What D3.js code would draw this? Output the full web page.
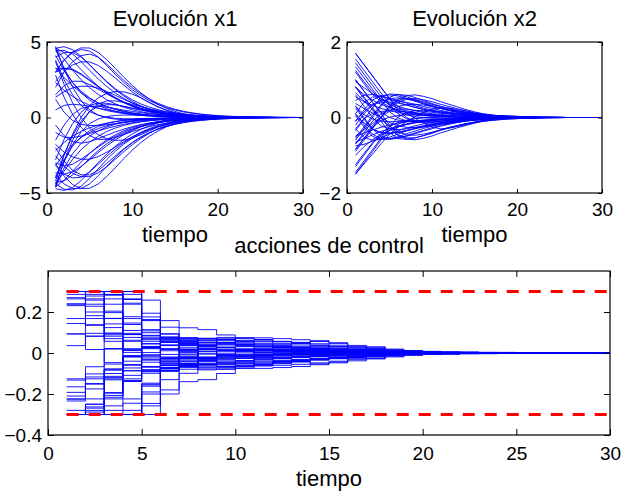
<!DOCTYPE html>
<html><head><meta charset="utf-8">
<script src="https://cdn.jsdelivr.net/npm/d3@7"></script>
<style>
html,body{margin:0;padding:0;background:#fff;}
svg{display:block;font-family:"Liberation Sans",Arial,Helvetica,sans-serif;}
</style></head><body>
<svg id="chart" width="623" height="492"></svg>
<script>
// ---------------- data ----------------
const time = [1,2,3,4,5,6,7,8,9,10,11,12,13,14,15,16,17,18,19,20,21,22,23,24,25,26,27,28,29,30];

const x1Series = [
[-4.6,-2.9,-1.5,-0.4,0.4,0.9,1.1,1.1,1.0,0.86,0.72,0.58,0.46,0.36,0.28,0.22,0.17,0.13,0.09,0.07,0.05,0.04,0.03,0.02,0.01,0.01,0,0,0,0],
[-4.4,-2.95,-1.8,-0.95,-0.4,-0.1,0.06,0.14,0.16,0.16,0.14,0.12,0.1,0.08,0.07,0.05,0.04,0.03,0.02,0.02,0.01,0.01,0,0,0,0,0,0,0,0],
[-4.0,-2.8,-1.9,-1.29,-0.87,-0.59,-0.4,-0.27,-0.18,-0.12,-0.08,-0.06,-0.04,-0.03,-0.02,-0.01,-0.01,0,0,0,0,0,0,0,0,0,0,0,0,0],
[-4.5,-3.55,-2.77,-2.13,-1.63,-1.24,-0.93,-0.7,-0.52,-0.39,-0.29,-0.21,-0.16,-0.12,-0.08,-0.06,-0.04,-0.03,-0.02,-0.02,-0.01,-0.01,0,0,0,0,0,0,0,0],
[-3.2,-2.4,-1.79,-1.33,-0.99,-0.73,-0.54,-0.4,-0.29,-0.21,-0.16,-0.11,-0.08,-0.06,-0.04,-0.03,-0.02,-0.01,-0.01,0,0,0,0,0,0,0,0,0,0,0],
[-4.6,-4.15,-3.56,-2.95,-2.38,-1.89,-1.48,-1.15,-0.88,-0.67,-0.51,-0.38,-0.29,-0.21,-0.16,-0.12,-0.09,-0.06,-0.05,-0.03,-0.03,-0.02,-0.01,-0.01,-0.01,0,0,0,0,0],
[-2.2,-1.65,-1.23,-0.92,-0.68,-0.5,-0.37,-0.27,-0.2,-0.15,-0.11,-0.08,-0.06,-0.04,-0.03,-0.02,-0.01,-0.01,0,0,0,0,0,0,0,0,0,0,0,0],
[-4.3,-4.2,-3.8,-3.26,-2.71,-2.19,-1.74,-1.36,-1.05,-0.81,-0.62,-0.47,-0.35,-0.26,-0.2,-0.15,-0.11,-0.08,-0.06,-0.04,-0.03,-0.02,-0.02,-0.01,-0.01,0,0,0,0,0],
[-3.0,-3.2,-3.1,-2.77,-2.36,-1.95,-1.57,-1.25,-0.97,-0.75,-0.58,-0.44,-0.33,-0.25,-0.19,-0.14,-0.1,-0.07,-0.05,-0.04,-0.03,-0.02,-0.01,-0.01,0,0,0,0,0,0],
[-4.4,-4.75,-4.8,-4.55,-4.02,-3.4,-2.79,-2.24,-1.76,-1.38,-1.06,-0.81,-0.62,-0.46,-0.35,-0.26,-0.2,-0.15,-0.11,-0.08,-0.06,-0.04,-0.03,-0.02,-0.02,-0.01,-0.01,0,0,0],
[-3.8,-4.4,-4.7,-4.7,-4.4,-3.86,-3.24,-2.65,-2.12,-1.67,-1.3,-1.0,-0.77,-0.58,-0.44,-0.33,-0.25,-0.19,-0.14,-0.1,-0.08,-0.06,-0.04,-0.03,-0.02,-0.02,-0.01,-0.01,0,0],
[-1.5,-0.5,0.2,0.6,0.74,0.75,0.68,0.59,0.49,0.4,0.32,0.25,0.19,0.15,0.11,0.08,0.06,0.05,0.03,0.03,0.02,0.01,0.01,0.01,0,0,0,0,0,0],
[2.0,3.0,3.7,4.1,4.2,4.0,3.54,3.0,2.46,1.98,1.56,1.22,0.94,0.72,0.54,0.41,0.31,0.23,0.17,0.13,0.09,0.07,0.05,0.04,0.03,0.02,0.01,0.01,0.01,0],
[3.0,3.8,4.3,4.5,4.4,4.0,3.44,2.86,2.32,1.84,1.45,1.12,0.86,0.65,0.5,0.37,0.28,0.21,0.15,0.11,0.08,0.06,0.04,0.03,0.02,0.02,0.01,0.01,0,0],
[4.0,4.3,4.3,4.0,3.49,2.93,2.39,1.91,1.5,1.17,0.9,0.69,0.52,0.39,0.3,0.22,0.17,0.12,0.09,0.07,0.05,0.04,0.03,0.02,0.01,0.01,0.01,0,0,0],
[4.7,3.2,2.0,1.1,0.5,0.16,-0.02,-0.11,-0.14,-0.14,-0.13,-0.11,-0.09,-0.08,-0.06,-0.05,-0.04,-0.03,-0.02,-0.02,-0.01,-0.01,0,0,0,0,0,0,0,0],
[4.5,3.25,2.3,1.63,1.15,0.81,0.58,0.41,0.29,0.2,0.14,0.1,0.07,0.05,0.04,0.03,0.02,0.01,0.01,0,0,0,0,0,0,0,0,0,0,0],
[4.1,3.1,2.33,1.74,1.3,0.96,0.71,0.53,0.39,0.28,0.21,0.15,0.11,0.08,0.06,0.04,0.03,0.02,0.02,0.01,0.01,0,0,0,0,0,0,0,0,0],
[4.6,3.85,3.14,2.5,1.97,1.53,1.18,0.9,0.68,0.51,0.38,0.29,0.21,0.16,0.12,0.09,0.06,0.05,0.03,0.03,0.02,0.01,0.01,0.01,0,0,0,0,0,0],
[3.3,2.65,2.09,1.63,1.26,0.96,0.73,0.55,0.42,0.31,0.23,0.17,0.13,0.1,0.07,0.05,0.04,0.03,0.02,0.01,0.01,0,0,0,0,0,0,0,0,0],
[4.6,4.3,3.77,3.17,2.59,2.07,1.63,1.27,0.98,0.74,0.56,0.43,0.32,0.24,0.18,0.13,0.09,0.07,0.05,0.04,0.03,0.02,0.01,0.01,0.01,0,0,0,0,0],
[2.3,1.8,1.39,1.07,0.81,0.62,0.46,0.35,0.26,0.19,0.14,0.11,0.08,0.06,0.04,0.03,0.02,0.02,0.01,0.01,0,0,0,0,0,0,0,0,0,0],
[4.4,4.45,4.2,3.7,3.12,2.56,2.05,1.62,1.26,0.97,0.74,0.56,0.42,0.32,0.24,0.18,0.13,0.1,0.07,0.05,0.04,0.03,0.02,0.02,0.01,0.01,0,0,0,0],
[3.0,3.25,3.2,2.89,2.48,2.05,1.66,1.32,1.03,0.8,0.61,0.46,0.35,0.26,0.2,0.15,0.11,0.08,0.06,0.04,0.03,0.02,0.02,0.01,0.01,0,0,0,0,0],
[1.2,0.35,-0.2,-0.45,-0.53,-0.53,-0.48,-0.41,-0.34,-0.27,-0.22,-0.17,-0.13,-0.1,-0.08,-0.06,-0.04,-0.03,-0.02,-0.02,-0.01,-0.01,0,0,0,0,0,0,0,0],
[-2.0,-2.9,-3.5,-3.8,-3.8,-3.5,-3.04,-2.54,-2.07,-1.65,-1.3,-1.01,-0.77,-0.59,-0.45,-0.34,-0.25,-0.19,-0.14,-0.1,-0.08,-0.06,-0.04,-0.03,-0.02,-0.02,-0.01,-0.01,0,0],
[-3.2,-3.75,-4.0,-3.95,-3.6,-3.1,-2.58,-2.09,-1.67,-1.31,-1.01,-0.78,-0.59,-0.45,-0.34,-0.25,-0.19,-0.14,-0.1,-0.08,-0.06,-0.04,-0.03,-0.02,-0.02,-0.01,-0.01,0,0,0],
[0.5,0.8,0.88,0.83,0.74,0.62,0.51,0.41,0.33,0.26,0.2,0.15,0.12,0.09,0.07,0.05,0.04,0.03,0.02,0.02,0.01,0.01,0,0,0,0,0,0,0,0],
[-1.0,-1.3,-1.33,-1.23,-1.06,-0.89,-0.72,-0.58,-0.45,-0.35,-0.27,-0.21,-0.16,-0.12,-0.09,-0.07,-0.05,-0.04,-0.03,-0.02,-0.02,-0.01,-0.01,0,0,0,0,0,0,0],
[-4.6,-3.35,-2.4,-1.72,-1.23,-0.88,-0.63,-0.45,-0.32,-0.23,-0.16,-0.12,-0.08,-0.06,-0.04,-0.03,-0.02,-0.02,-0.01,-0.01,0,0,0,0,0,0,0,0,0,0],
[3.8,2.5,1.5,0.8,0.39,0.15,0.02,-0.05,-0.08,-0.08,-0.08,-0.07,-0.06,-0.05,-0.04,-0.03,-0.02,-0.02,-0.01,-0.01,0,0,0,0,0,0,0,0,0,0],
[-4.0,-2.45,-1.2,-0.25,0.4,0.75,0.85,0.83,0.74,0.63,0.52,0.42,0.33,0.26,0.2,0.16,0.12,0.09,0.07,0.05,0.04,0.03,0.02,0.02,0.01,0.01,0,0,0,0],
[1.5,2.1,2.4,2.4,2.18,1.88,1.56,1.27,1.01,0.79,0.61,0.47,0.36,0.27,0.21,0.15,0.12,0.09,0.06,0.05,0.04,0.03,0.02,0.01,0.01,0.01,0,0,0,0],
[-0.5,-1.2,-1.6,-1.7,-1.6,-1.4,-1.18,-0.96,-0.77,-0.61,-0.47,-0.36,-0.28,-0.21,-0.16,-0.12,-0.09,-0.07,-0.05,-0.04,-0.03,-0.02,-0.01,-0.01,-0.01,0,0,0,0,0],
[-2.8,-1.45,-0.4,0.35,0.8,0.95,0.94,0.85,0.73,0.6,0.49,0.39,0.31,0.24,0.18,0.14,0.11,0.08,0.06,0.04,0.03,0.02,0.02,0.01,0.01,0,0,0,0,0],
[2.8,1.35,0.2,-0.65,-1.2,-1.45,-1.44,-1.31,-1.13,-0.93,-0.76,-0.6,-0.47,-0.37,-0.28,-0.21,-0.16,-0.12,-0.09,-0.07,-0.05,-0.04,-0.03,-0.02,-0.02,-0.01,-0.01,0,0,0],
[2.99,3.81,4.35,4.61,4.6,4.31,3.83,3.26,2.67,2.12,1.63,1.22,0.88,0.61,0.4,0.25,0.15,0.08,0.04,0.02,0.01,0,0,0,0,0,0,0,0,0],
[-3.05,-3.89,-4.44,-4.7,-4.69,-4.4,-3.91,-3.33,-2.72,-2.16,-1.66,-1.24,-0.9,-0.62,-0.41,-0.26,-0.15,-0.08,-0.04,-0.02,-0.01,0,0,0,0,0,0,0,0,0],
[2.39,3.05,3.48,3.69,3.68,3.45,3.06,2.61,2.14,1.7,1.3,0.98,0.7,0.49,0.32,0.2,0.12,0.06,0.03,0.02,0.01,0,0,0,0,0,0,0,0,0],
[-2.54,-3.24,-3.7,-3.92,-3.91,-3.66,-3.26,-2.77,-2.27,-1.8,-1.39,-1.04,-0.75,-0.52,-0.34,-0.21,-0.13,-0.07,-0.03,-0.02,-0.01,0,0,0,0,0,0,0,0,0],
[-1.79,-2.29,-2.61,-2.77,-2.76,-2.59,-2.3,-1.96,-1.6,-1.27,-0.98,-0.73,-0.53,-0.37,-0.24,-0.15,-0.09,-0.05,-0.02,-0.01,-0.01,0,0,0,0,0,0,0,0,0],
[1.35,1.71,1.96,2.07,2.07,1.94,1.72,1.47,1.2,0.95,0.73,0.55,0.4,0.27,0.18,0.11,0.07,0.04,0.02,0.01,0,0,0,0,0,0,0,0,0,0],
[4.58,4.69,4.49,4.05,3.49,2.9,2.35,1.85,1.42,1.06,0.76,0.53,0.35,0.22,0.13,0.07,0.03,0.01,0,0,0,0,0,0,0,0,0,0,0,0],
[-4.72,-4.83,-4.64,-4.17,-3.59,-2.99,-2.42,-1.91,-1.46,-1.09,-0.79,-0.55,-0.36,-0.23,-0.13,-0.07,-0.03,-0.01,0,0,0,0,0,0,0,0,0,0,0,0],
[3.21,3.28,3.15,2.84,2.44,2.03,1.65,1.3,0.99,0.74,0.53,0.37,0.25,0.15,0.09,0.05,0.02,0.01,0,0,0,0,0,0,0,0,0,0,0,0],
[-3.66,-3.75,-3.6,-3.24,-2.79,-2.32,-1.88,-1.48,-1.14,-0.85,-0.61,-0.42,-0.28,-0.18,-0.1,-0.05,-0.02,-0.01,0,0,0,0,0,0,0,0,0,0,0,0],
[-4.2,-2.5,-1.1,0,0.8,1.3,1.6,1.72,1.7,1.55,1.3,1.0,0.72,0.48,0.29,0.16,0.08,0.03,0.01,0,0,0,0,0,0,0,0,0,0,0],
[3.7,2.2,0.97,0,-0.7,-1.14,-1.41,-1.51,-1.5,-1.36,-1.14,-0.88,-0.63,-0.42,-0.26,-0.14,-0.07,-0.03,-0.01,0,0,0,0,0,0,0,0,0,0,0]
];

const x2Series = [
[1.7,1.4,1.1,0.8,0.5,0.2,0,-0.1,-0.14,-0.15,-0.14,-0.12,-0.1,-0.08,-0.07,-0.05,-0.04,-0.03,-0.02,-0.02,-0.01,-0.01,-0.01,0,0,0,0,0,0,0],
[1.45,1.15,0.85,0.55,0.31,0.16,0.07,0.02,0,-0.02,-0.02,-0.02,-0.02,-0.02,-0.01,-0.01,-0.01,-0.01,0,0,0,0,0,0,0,0,0,0,0,0],
[1.2,0.9,0.61,0.42,0.28,0.19,0.13,0.09,0.06,0.04,0.03,0.02,0.01,0.01,0.01,0,0,0,0,0,0,0,0,0,0,0,0,0,0,0],
[0.95,0.79,0.63,0.5,0.39,0.3,0.23,0.18,0.13,0.1,0.08,0.06,0.04,0.03,0.02,0.02,0.01,0.01,0.01,0,0,0,0,0,0,0,0,0,0,0],
[0.8,0.61,0.46,0.35,0.26,0.19,0.14,0.11,0.08,0.06,0.04,0.03,0.02,0.02,0.01,0.01,0,0,0,0,0,0,0,0,0,0,0,0,0,0],
[0.45,0.59,0.61,0.56,0.49,0.41,0.33,0.27,0.21,0.16,0.13,0.1,0.07,0.06,0.04,0.03,0.02,0.02,0.01,0.01,0.01,0,0,0,0,0,0,0,0,0],
[0.55,0.42,0.32,0.24,0.18,0.13,0.1,0.07,0.05,0.04,0.03,0.02,0.02,0.01,0.01,0,0,0,0,0,0,0,0,0,0,0,0,0,0,0],
[0.1,0.4,0.54,0.56,0.52,0.45,0.38,0.31,0.25,0.19,0.15,0.12,0.09,0.07,0.05,0.04,0.03,0.02,0.02,0.01,0.01,0.01,0,0,0,0,0,0,0,0],
[-0.2,0.1,0.33,0.41,0.41,0.38,0.33,0.27,0.22,0.18,0.14,0.11,0.08,0.06,0.05,0.04,0.03,0.02,0.01,0.01,0.01,0,0,0,0,0,0,0,0,0],
[-0.35,-0.05,0.25,0.53,0.62,0.61,0.55,0.47,0.39,0.32,0.25,0.2,0.15,0.12,0.09,0.07,0.05,0.04,0.03,0.02,0.02,0.01,0.01,0.01,0,0,0,0,0,0],
[-0.6,-0.3,0,0.3,0.54,0.61,0.59,0.53,0.45,0.37,0.3,0.24,0.18,0.14,0.11,0.08,0.06,0.05,0.04,0.03,0.02,0.02,0.01,0.01,0.01,0,0,0,0,0],
[1.0,0.7,0.4,0.14,0,-0.07,-0.09,-0.1,-0.09,-0.08,-0.07,-0.06,-0.05,-0.04,-0.03,-0.02,-0.02,-0.01,-0.01,-0.01,0,0,0,0,0,0,0,0,0,0],
[1.0,0.7,0.4,0.1,-0.2,-0.46,-0.54,-0.54,-0.48,-0.42,-0.34,-0.28,-0.22,-0.17,-0.14,-0.1,-0.08,-0.06,-0.04,-0.03,-0.02,-0.02,-0.01,-0.01,-0.01,0,0,0,0,0],
[0.8,0.5,0.2,-0.1,-0.4,-0.56,-0.58,-0.54,-0.48,-0.4,-0.33,-0.26,-0.21,-0.16,-0.12,-0.09,-0.07,-0.05,-0.04,-0.03,-0.02,-0.02,-0.01,-0.01,0,0,0,0,0,0],
[0.3,0,-0.3,-0.51,-0.56,-0.54,-0.48,-0.41,-0.34,-0.27,-0.21,-0.17,-0.13,-0.1,-0.07,-0.06,-0.04,-0.03,-0.02,-0.02,-0.01,-0.01,-0.01,0,0,0,0,0,0,0],
[-1.5,-1.2,-0.9,-0.6,-0.34,-0.18,-0.09,-0.03,0,0.01,0.02,0.02,0.02,0.02,0.01,0.01,0.01,0.01,0,0,0,0,0,0,0,0,0,0,0,0],
[-1.25,-0.95,-0.67,-0.48,-0.34,-0.24,-0.17,-0.12,-0.08,-0.06,-0.04,-0.03,-0.02,-0.01,-0.01,-0.01,0,0,0,0,0,0,0,0,0,0,0,0,0,0],
[-1.0,-0.77,-0.59,-0.45,-0.34,-0.25,-0.19,-0.14,-0.1,-0.08,-0.06,-0.04,-0.03,-0.02,-0.02,-0.01,-0.01,0,0,0,0,0,0,0,0,0,0,0,0,0],
[-0.75,-0.71,-0.63,-0.54,-0.44,-0.35,-0.28,-0.22,-0.17,-0.13,-0.1,-0.07,-0.06,-0.04,-0.03,-0.02,-0.02,-0.01,-0.01,-0.01,0,0,0,0,0,0,0,0,0,0],
[-0.65,-0.56,-0.46,-0.37,-0.3,-0.23,-0.18,-0.14,-0.11,-0.08,-0.06,-0.04,-0.03,-0.02,-0.02,-0.01,-0.01,0,0,0,0,0,0,0,0,0,0,0,0,0],
[-0.3,-0.53,-0.6,-0.58,-0.52,-0.44,-0.36,-0.29,-0.23,-0.18,-0.14,-0.11,-0.08,-0.06,-0.05,-0.04,-0.03,-0.02,-0.01,-0.01,-0.01,0,0,0,0,0,0,0,0,0],
[-0.5,-0.41,-0.33,-0.26,-0.2,-0.15,-0.12,-0.09,-0.07,-0.05,-0.04,-0.03,-0.02,-0.02,-0.01,-0.01,0,0,0,0,0,0,0,0,0,0,0,0,0,0],
[0.05,-0.25,-0.5,-0.58,-0.56,-0.51,-0.43,-0.36,-0.29,-0.23,-0.18,-0.14,-0.11,-0.08,-0.06,-0.05,-0.03,-0.03,-0.02,-0.01,-0.01,-0.01,0,0,0,0,0,0,0,0],
[0.25,-0.05,-0.31,-0.41,-0.43,-0.39,-0.34,-0.29,-0.23,-0.19,-0.15,-0.11,-0.09,-0.07,-0.05,-0.04,-0.03,-0.02,-0.02,-0.01,-0.01,0,0,0,0,0,0,0,0,0],
[-0.85,-0.55,-0.25,-0.08,0.01,0.05,0.07,0.07,0.06,0.06,0.05,0.04,0.03,0.02,0.02,0.01,0.01,0.01,0,0,0,0,0,0,0,0,0,0,0,0],
[-0.9,-0.6,-0.3,0,0.3,0.46,0.5,0.47,0.42,0.35,0.29,0.23,0.18,0.14,0.11,0.08,0.06,0.05,0.04,0.03,0.02,0.02,0.01,0.01,0.01,0,0,0,0,0],
[-0.55,-0.25,0.05,0.35,0.5,0.52,0.49,0.43,0.36,0.29,0.24,0.19,0.14,0.11,0.08,0.06,0.05,0.04,0.03,0.02,0.02,0.01,0.01,0.01,0,0,0,0,0,0],
[0.3,0.08,-0.04,-0.1,-0.11,-0.11,-0.1,-0.09,-0.07,-0.06,-0.05,-0.04,-0.03,-0.02,-0.02,-0.01,-0.01,-0.01,0,0,0,0,0,0,0,0,0,0,0,0],
[-0.3,-0.03,0.11,0.16,0.18,0.17,0.15,0.12,0.1,0.08,0.06,0.05,0.04,0.03,0.02,0.02,0.01,0.01,0.01,0,0,0,0,0,0,0,0,0,0,0],
[1.25,0.95,0.68,0.49,0.35,0.25,0.18,0.13,0.09,0.07,0.05,0.03,0.02,0.02,0.01,0.01,0,0,0,0,0,0,0,0,0,0,0,0,0,0],
[-1.3,-1.0,-0.7,-0.42,-0.24,-0.13,-0.07,-0.03,-0.01,0,0.01,0.01,0.01,0.01,0.01,0.01,0,0,0,0,0,0,0,0,0,0,0,0,0,0],
[1.55,1.25,0.95,0.65,0.35,0.1,-0.03,-0.09,-0.11,-0.11,-0.1,-0.09,-0.07,-0.06,-0.05,-0.04,-0.03,-0.02,-0.02,-0.01,-0.01,-0.01,0,0,0,0,0,0,0,0],
[0.6,0.3,0,-0.22,-0.3,-0.32,-0.3,-0.26,-0.22,-0.18,-0.14,-0.11,-0.09,-0.07,-0.05,-0.04,-0.03,-0.02,-0.02,-0.01,-0.01,-0.01,0,0,0,0,0,0,0,0],
[-0.7,-0.4,-0.1,0.1,0.2,0.22,0.22,0.19,0.16,0.14,0.11,0.09,0.07,0.05,0.04,0.03,0.02,0.02,0.01,0.01,0.01,0,0,0,0,0,0,0,0,0],
[1.35,1.05,0.75,0.45,0.15,-0.01,-0.09,-0.12,-0.12,-0.12,-0.1,-0.08,-0.07,-0.05,-0.04,-0.03,-0.03,-0.02,-0.01,-0.01,-0.01,0,0,0,0,0,0,0,0,0],
[-1.45,-1.15,-0.85,-0.55,-0.25,0.01,0.13,0.18,0.19,0.18,0.16,0.13,0.11,0.09,0.07,0.05,0.04,0.03,0.02,0.02,0.01,0.01,0.01,0,0,0,0,0,0,0],
[0.82,0.54,0.26,-0.01,-0.29,-0.48,-0.57,-0.59,-0.55,-0.49,-0.41,-0.34,-0.27,-0.21,-0.15,-0.1,-0.07,-0.04,-0.02,-0.01,-0.01,0,0,0,0,0,0,0,0,0],
[-0.84,-0.55,-0.27,0.01,0.3,0.49,0.58,0.6,0.56,0.5,0.42,0.35,0.28,0.21,0.15,0.1,0.07,0.04,0.02,0.01,0.01,0,0,0,0,0,0,0,0,0],
[0.66,0.43,0.21,-0.01,-0.23,-0.38,-0.46,-0.47,-0.44,-0.39,-0.33,-0.27,-0.22,-0.17,-0.12,-0.08,-0.06,-0.03,-0.02,-0.01,-0.01,0,0,0,0,0,0,0,0,0],
[-0.7,-0.46,-0.22,0.01,0.25,0.41,0.48,0.5,0.47,0.42,0.35,0.29,0.23,0.18,0.13,0.09,0.06,0.03,0.02,0.01,0.01,0,0,0,0,0,0,0,0,0],
[-0.49,-0.32,-0.16,0.01,0.17,0.29,0.34,0.35,0.33,0.29,0.25,0.2,0.16,0.13,0.09,0.06,0.04,0.02,0.01,0.01,0,0,0,0,0,0,0,0,0,0],
[0.37,0.24,0.12,0,-0.13,-0.22,-0.26,-0.27,-0.25,-0.22,-0.18,-0.15,-0.12,-0.09,-0.07,-0.05,-0.03,-0.02,-0.01,-0.01,0,0,0,0,0,0,0,0,0,0],
[0.11,-0.19,-0.44,-0.56,-0.58,-0.55,-0.5,-0.43,-0.36,-0.3,-0.23,-0.18,-0.13,-0.09,-0.06,-0.04,-0.02,-0.01,0,0,0,0,0,0,0,0,0,0,0,0],
[-0.11,0.2,0.46,0.58,0.6,0.57,0.51,0.45,0.37,0.3,0.24,0.18,0.13,0.09,0.06,0.04,0.02,0.01,0,0,0,0,0,0,0,0,0,0,0,0],
[0.07,-0.14,-0.31,-0.39,-0.41,-0.39,-0.35,-0.3,-0.25,-0.21,-0.16,-0.12,-0.09,-0.06,-0.04,-0.03,-0.01,-0.01,0,0,0,0,0,0,0,0,0,0,0,0],
[-0.09,0.15,0.35,0.45,0.47,0.44,0.4,0.35,0.29,0.24,0.19,0.14,0.1,0.07,0.05,0.03,0.02,0.01,0,0,0,0,0,0,0,0,0,0,0,0],
[1.7,1.4,1.1,0.8,0.5,0.3,0.12,-0.02,-0.15,-0.25,-0.3,-0.28,-0.24,-0.19,-0.13,-0.08,-0.05,-0.02,-0.01,0,0,0,0,0,0,0,0,0,0,0],
[-1.5,-1.23,-0.97,-0.7,-0.44,-0.26,-0.11,0.02,0.13,0.22,0.26,0.25,0.21,0.17,0.11,0.07,0.04,0.02,0.01,0,0,0,0,0,0,0,0,0,0,0]
];

const uSeries = [
[-0.3,-0.3,-0.3,-0.3,-0.3,-0.2,-0.099,-0.039,-0.007,0.01,0.018,0.019,0.018,0.016,0.014,0.011,0.009,0.007,0.006,0.004,0.003,0.002,0.002,0.001,0.001,0,0,0,0,0],
[-0.3,-0.3,-0.3,-0.245,-0.147,-0.086,-0.049,-0.026,-0.012,-0.005,0,0.001,0.003,0.003,0.003,0.002,0.002,0.001,0.001,0,0,0,0,0,0,0,0,0,0,0],
[-0.3,-0.288,-0.196,-0.134,-0.091,-0.062,-0.041,-0.029,-0.019,-0.013,-0.009,-0.006,-0.004,-0.003,-0.002,-0.001,0,0,0,0,0,0,0,0,0,0,0,0,0,0],
[-0.165,-0.152,-0.131,-0.109,-0.089,-0.071,-0.056,-0.043,-0.033,-0.026,-0.019,-0.014,-0.011,-0.008,-0.006,-0.004,-0.003,-0.002,-0.002,-0.001,0,0,0,0,0,0,0,0,0,0],
[-0.192,-0.149,-0.114,-0.087,-0.066,-0.049,-0.038,-0.028,-0.02,-0.015,-0.011,-0.008,-0.006,-0.004,-0.003,-0.002,-0.001,0,0,0,0,0,0,0,0,0,0,0,0,0],
[0.144,0.017,-0.047,-0.073,-0.081,-0.076,-0.067,-0.057,-0.047,-0.038,-0.029,-0.023,-0.018,-0.014,-0.01,-0.008,-0.006,-0.004,-0.003,-0.002,-0.002,-0.001,0,0,0,0,0,0,0,0],
[-0.132,-0.102,-0.079,-0.06,-0.045,-0.034,-0.025,-0.019,-0.014,-0.01,-0.007,-0.005,-0.004,-0.003,-0.002,-0.001,0,0,0,0,0,0,0,0,0,0,0,0,0,0],
[0.3,0.138,0.019,-0.04,-0.067,-0.073,-0.07,-0.062,-0.052,-0.043,-0.035,-0.027,-0.021,-0.016,-0.012,-0.009,-0.007,-0.005,-0.004,-0.003,-0.002,-0.001,-0.001,0,0,0,0,0,0,0],
[0.3,0.228,0.082,0.003,-0.035,-0.052,-0.055,-0.051,-0.044,-0.037,-0.031,-0.025,-0.02,-0.015,-0.011,-0.008,-0.006,-0.005,-0.003,-0.002,-0.002,-0.001,0,0,0,0,0,0,0,0],
[0.3,0.3,0.282,0.09,-0.011,-0.061,-0.079,-0.082,-0.074,-0.065,-0.055,-0.044,-0.036,-0.027,-0.022,-0.016,-0.012,-0.009,-0.007,-0.005,-0.004,-0.003,-0.002,-0.001,-0.001,0,0,0,0,0],
[0.3,0.3,0.3,0.243,0.07,-0.021,-0.063,-0.078,-0.08,-0.073,-0.062,-0.052,-0.042,-0.033,-0.026,-0.02,-0.015,-0.011,-0.008,-0.006,-0.005,-0.003,-0.003,-0.002,-0.001,0,0,0,0,0],
[-0.3,-0.3,-0.258,-0.139,-0.069,-0.027,-0.005,0.006,0.011,0.013,0.012,0.011,0.01,0.008,0.007,0.005,0.004,0.003,0.002,0.002,0.001,0.001,0,0,0,0,0,0,0,0],
[-0.3,-0.3,-0.3,-0.3,-0.258,-0.085,0.007,0.052,0.068,0.072,0.065,0.057,0.048,0.039,0.032,0.025,0.019,0.015,0.011,0.008,0.006,0.005,0.003,0.003,0.002,0.001,0.001,0,0,0],
[-0.3,-0.3,-0.3,-0.3,-0.156,-0.026,0.039,0.068,0.076,0.073,0.066,0.055,0.046,0.036,0.029,0.023,0.017,0.013,0.01,0.007,0.005,0.004,0.003,0.002,0.002,0.001,0,0,0,0],
[-0.3,-0.3,-0.207,-0.056,0.024,0.059,0.073,0.072,0.066,0.056,0.047,0.038,0.03,0.024,0.018,0.014,0.01,0.008,0.006,0.004,0.003,0.002,0.002,0.001,0,0,0,0,0,0],
[0.3,0.3,0.3,0.261,0.158,0.094,0.054,0.03,0.015,0.006,0.001,-0.001,-0.002,-0.002,-0.002,-0.002,-0.001,-0.001,0,0,0,0,0,0,0,0,0,0,0,0],
[0.3,0.278,0.197,0.139,0.099,0.07,0.049,0.035,0.025,0.017,0.012,0.009,0.006,0.004,0.003,0.002,0.001,0.001,0,0,0,0,0,0,0,0,0,0,0,0],
[0.231,0.182,0.142,0.11,0.084,0.064,0.048,0.036,0.027,0.02,0.015,0.011,0.008,0.006,0.004,0.003,0.002,0.002,0.001,0.001,0,0,0,0,0,0,0,0,0,0],
[0.036,0.082,0.097,0.096,0.086,0.074,0.061,0.05,0.04,0.031,0.024,0.018,0.014,0.01,0.008,0.006,0.004,0.003,0.002,0.002,0.001,0.001,0,0,0,0,0,0,0,0],
[0.093,0.096,0.089,0.076,0.065,0.052,0.041,0.033,0.026,0.019,0.014,0.011,0.008,0.006,0.004,0.003,0.002,0.002,0.001,0,0,0,0,0,0,0,0,0,0,0],
[-0.234,-0.067,0.022,0.062,0.077,0.078,0.07,0.061,0.051,0.041,0.032,0.026,0.019,0.015,0.011,0.008,0.006,0.004,0.003,0.002,0.002,0.001,0.001,0,0,0,0,0,0,0],
[0.093,0.082,0.07,0.057,0.046,0.036,0.028,0.022,0.016,0.012,0.009,0.007,0.005,0.004,0.003,0.002,0.001,0.001,0,0,0,0,0,0,0,0,0,0,0,0],
[-0.3,-0.25,-0.078,0.014,0.057,0.074,0.075,0.069,0.06,0.05,0.04,0.033,0.026,0.019,0.015,0.011,0.008,0.006,0.005,0.003,0.002,0.002,0.001,0.001,0,0,0,0,0,0],
[-0.3,-0.263,-0.1,-0.013,0.032,0.051,0.056,0.053,0.047,0.04,0.033,0.026,0.02,0.016,0.012,0.009,0.007,0.005,0.004,0.003,0.002,0.001,0.001,0,0,0,0,0,0,0],
[0.3,0.299,0.169,0.09,0.044,0.017,0.002,-0.005,-0.009,-0.009,-0.009,-0.007,-0.006,-0.005,-0.004,-0.003,-0.002,-0.001,-0.001,0,0,0,0,0,0,0,0,0,0,0],
[0.3,0.3,0.3,0.3,0.162,0.038,-0.027,-0.056,-0.064,-0.064,-0.056,-0.049,-0.041,-0.033,-0.026,-0.02,-0.015,-0.011,-0.008,-0.006,-0.005,-0.003,-0.003,-0.002,-0.001,0,0,0,0,0],
[0.3,0.3,0.3,0.146,0.027,-0.034,-0.061,-0.068,-0.066,-0.058,-0.05,-0.041,-0.033,-0.027,-0.02,-0.015,-0.011,-0.008,-0.006,-0.005,-0.003,-0.003,-0.002,-0.001,0,0,0,0,0,0],
[-0.225,-0.117,-0.054,-0.017,0.002,0.011,0.014,0.015,0.013,0.012,0.01,0.008,0.006,0.005,0.004,0.003,0.002,0.002,0.001,0,0,0,0,0,0,0,0,0,0,0],
[0.27,0.135,0.057,0.013,-0.009,-0.02,-0.023,-0.022,-0.02,-0.017,-0.014,-0.011,-0.008,-0.006,-0.005,-0.004,-0.003,-0.002,-0.001,-0.001,0,0,0,0,0,0,0,0,0,0],
[-0.3,-0.269,-0.193,-0.138,-0.099,-0.072,-0.051,-0.037,-0.026,-0.019,-0.013,-0.01,-0.007,-0.005,-0.003,-0.002,-0.002,-0.001,0,0,0,0,0,0,0,0,0,0,0,0],
[0.3,0.3,0.285,0.177,0.108,0.065,0.038,0.021,0.011,0.005,0.002,0,-0.001,-0.001,-0.001,-0.001,0,0,0,0,0,0,0,0,0,0,0,0,0,0],
[-0.3,-0.3,-0.3,-0.3,-0.246,-0.13,-0.061,-0.022,-0.001,0.009,0.014,0.014,0.013,0.011,0.009,0.007,0.006,0.004,0.003,0.002,0.002,0.001,0.001,0,0,0,0,0,0,0],
[-0.3,-0.3,-0.216,-0.086,-0.016,0.022,0.037,0.041,0.04,0.036,0.03,0.025,0.02,0.015,0.012,0.009,0.007,0.005,0.004,0.003,0.002,0.001,0.001,0,0,0,0,0,0,0],
[0.3,0.3,0.204,0.091,0.027,-0.007,-0.023,-0.028,-0.029,-0.026,-0.023,-0.019,-0.015,-0.012,-0.009,-0.007,-0.005,-0.004,-0.003,-0.002,-0.002,-0.001,0,0,0,0,0,0,0,0],
[-0.3,-0.3,-0.3,-0.3,-0.162,-0.078,-0.03,-0.004,0.009,0.015,0.016,0.015,0.013,0.011,0.009,0.007,0.005,0.004,0.003,0.002,0.002,0.001,0,0,0,0,0,0,0,0],
[0.3,0.3,0.3,0.3,0.258,0.126,0.049,0.008,-0.013,-0.023,-0.025,-0.024,-0.021,-0.017,-0.014,-0.011,-0.008,-0.006,-0.005,-0.004,-0.003,-0.002,-0.001,-0.001,0,0,0,0,0,0],
[-0.28,-0.28,-0.28,-0.28,-0.19,-0.09,-0.02,0.037,0.065,0.074,0.074,0.07,0.065,0.056,0.047,0.037,0.028,0.019,0.011,0.006,0.003,0,0,0,0,0,0,0,0,0],
[0.286,0.286,0.286,0.286,0.194,0.092,0.02,-0.038,-0.066,-0.075,-0.075,-0.071,-0.066,-0.057,-0.048,-0.038,-0.029,-0.019,-0.011,-0.006,-0.003,0,0,0,0,0,0,0,0,0],
[-0.224,-0.224,-0.224,-0.224,-0.152,-0.072,-0.016,0.03,0.052,0.059,0.059,0.056,0.052,0.045,0.038,0.03,0.022,0.015,0.009,0.005,0.002,0,0,0,0,0,0,0,0,0],
[0.238,0.238,0.238,0.238,0.162,0.077,0.017,-0.031,-0.055,-0.063,-0.063,-0.06,-0.055,-0.048,-0.04,-0.031,-0.024,-0.016,-0.009,-0.005,-0.003,0,0,0,0,0,0,0,0,0],
[0.168,0.168,0.168,0.168,0.114,0.054,0.012,-0.022,-0.039,-0.044,-0.044,-0.042,-0.039,-0.034,-0.028,-0.022,-0.017,-0.011,-0.007,-0.004,-0.002,0,0,0,0,0,0,0,0,0],
[-0.126,-0.126,-0.126,-0.126,-0.086,-0.041,-0.009,0.017,0.029,0.033,0.033,0.032,0.029,0.025,0.021,0.017,0.013,0.009,0.005,0.003,0.001,0,0,0,0,0,0,0,0,0],
[-0.3,-0.25,-0.12,-0.02,0.03,0.055,0.065,0.07,0.068,0.062,0.055,0.047,0.039,0.031,0.024,0.017,0.011,0.006,0.003,0,0,0,0,0,0,0,0,0,0,0],
[0.3,0.258,0.124,0.021,-0.031,-0.057,-0.067,-0.072,-0.07,-0.064,-0.057,-0.048,-0.04,-0.032,-0.025,-0.018,-0.011,-0.006,-0.003,0,0,0,0,0,0,0,0,0,0,0],
[-0.21,-0.175,-0.084,-0.014,0.021,0.039,0.046,0.049,0.048,0.043,0.039,0.033,0.027,0.022,0.017,0.012,0.008,0.004,0.002,0,0,0,0,0,0,0,0,0,0,0],
[0.24,0.2,0.096,0.016,-0.024,-0.044,-0.052,-0.056,-0.054,-0.05,-0.044,-0.038,-0.031,-0.025,-0.019,-0.014,-0.009,-0.005,-0.002,0,0,0,0,0,0,0,0,0,0,0],
[-0.3,-0.3,-0.3,-0.3,-0.2,-0.18,-0.14,-0.13,-0.1,-0.05,0.02,0.04,0.05,0.06,0.05,0.03,0.03,0.01,0.01,0,0,0,0,0,0,0,0,0,0,0],
[0.264,0.264,0.264,0.264,0.176,0.158,0.123,0.114,0.088,0.044,-0.018,-0.035,-0.044,-0.053,-0.044,-0.026,-0.026,-0.009,-0.009,0,0,0,0,0,0,0,0,0,0,0]
];

const uLimits = [0.3, -0.3];
const limitSpan = [1, 30];
const tTicksTop = [0, 10, 20, 30];
const tTicksBottom = [0, 5, 10, 15, 20, 25, 30];
const x1Ticks = [-5, 0, 5];
const x2Ticks = [-2, 0, 2];
const uTicks = [-0.4, -0.2, 0, 0.2];
const titles = ["Evolución x1", "Evolución x2", "acciones de control"];
const xLabel = "tiempo";

// ---------------- drawing ----------------
const svg = d3.select("#chart");
const BLUE = "#0000ff", RED = "#ff0000";
const TICK_FS = 19, LABEL_FS = 22;

function makePanel(box, xDomain, yDomain, xTicks, yTicks, yFmt, tickLen, xPad) {
  const x = d3.scaleLinear().domain(xDomain).range([box.x0, box.x1]);
  const y = d3.scaleLinear().domain(yDomain).range([box.y1, box.y0]);
  const g = svg.append("g");
  const dataG = g.append("g");
  const styleAxis = sel => {
    sel.select(".domain").remove();
    sel.selectAll(".tick line").attr("stroke", "#000").attr("stroke-width", 1);
    sel.selectAll(".tick text").attr("font-size", TICK_FS).attr("fill", "#000")
       .attr("font-family", '"Liberation Sans", Arial, Helvetica, sans-serif');
  };
  g.append("g").attr("transform", `translate(0,${box.y1})`)
    .call(d3.axisBottom(x).tickValues(xTicks).tickSize(-tickLen).tickPadding(xPad).tickFormat(d3.format("d")))
    .call(styleAxis);
  g.append("g").attr("transform", `translate(0,${box.y0})`)
    .call(d3.axisTop(x).tickValues(xTicks).tickSize(-tickLen).tickFormat(""))
    .call(styleAxis);
  g.append("g").attr("transform", `translate(${box.x0},0)`)
    .call(d3.axisLeft(y).tickValues(yTicks).tickSize(-tickLen).tickPadding(6).tickFormat(yFmt))
    .call(styleAxis);
  g.append("g").attr("transform", `translate(${box.x1},0)`)
    .call(d3.axisRight(y).tickValues(yTicks).tickSize(-tickLen).tickFormat(""))
    .call(styleAxis);
  g.append("rect").attr("x", box.x0).attr("y", box.y0)
    .attr("width", box.x1 - box.x0).attr("height", box.y1 - box.y0)
    .attr("fill", "none").attr("stroke", "#000").attr("stroke-width", 1.2);
  return {x, y, g: dataG};
}

const intFmt = v => d3.format("d")(v);
const decFmt = v => v === 0 ? "0" : d3.format(".1f")(v);

// Panel 1: x1
const p1 = makePanel({x0:47, x1:303, y0:42, y1:193}, [0,30], [-5,5], tTicksTop, x1Ticks, intFmt, 4, 10);
const line1 = d3.line().x((d,i) => p1.x(time[i])).y(d => p1.y(d));
p1.g.selectAll("path").data(x1Series).join("path")
  .attr("d", line1).attr("fill", "none").attr("stroke", BLUE).attr("stroke-width", 0.9);

// Panel 2: x2
const p2 = makePanel({x0:347, x1:602, y0:42, y1:193}, [0,30], [-2,2], tTicksTop, x2Ticks, intFmt, 4, 10);
const line2 = d3.line().x((d,i) => p2.x(time[i])).y(d => p2.y(d));
p2.g.selectAll("path").data(x2Series).join("path")
  .attr("d", line2).attr("fill", "none").attr("stroke", BLUE).attr("stroke-width", 0.9);

// Panel 3: control actions (stairs)
const p3 = makePanel({x0:48, x1:610, y0:271, y1:435}, [0,30], [-0.4,0.4], tTicksBottom, uTicks, decFmt, 6, 12);
const line3 = d3.line().curve(d3.curveStepAfter).x((d,i) => p3.x(time[i])).y(d => p3.y(d));
p3.g.selectAll("path.u").data(uSeries).join("path").attr("class", "u")
  .attr("d", line3).attr("fill", "none").attr("stroke", BLUE).attr("stroke-width", 0.9);
const limLine = d3.line().x(d => p3.x(d[0])).y(d => p3.y(d[1]));
p3.g.selectAll("path.lim").data(uLimits.map(v => limitSpan.map(t => [t, v]))).join("path").attr("class", "lim")
  .attr("d", limLine).attr("fill", "none").attr("stroke", RED).attr("stroke-width", 2.8)
  .attr("stroke-dasharray", "12,10");

// Text
const txt = (x, y, s) => svg.append("text").attr("x", x).attr("y", y).attr("text-anchor", "middle")
  .attr("font-size", LABEL_FS).attr("fill", "#000").text(s);
txt(175, 26, titles[0]);
txt(474.5, 26, titles[1]);
txt(175, 242, xLabel);
txt(474.5, 242, xLabel);
txt(329, 253, titles[2]);
txt(329, 486, xLabel);
</script>
</body></html>
